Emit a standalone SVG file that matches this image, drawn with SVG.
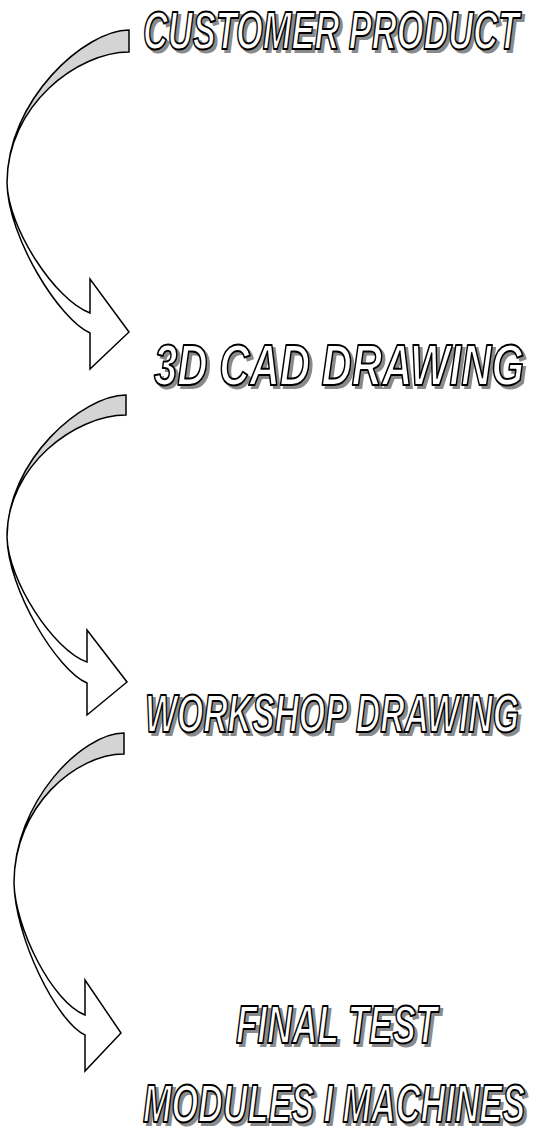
<svg xmlns="http://www.w3.org/2000/svg" width="541" height="1129" viewBox="0 0 541 1129">
<style>
.back{fill:#d4d4d4;stroke:#000;stroke-width:1.5;stroke-linejoin:miter}
.front{fill:#fff;stroke:#000;stroke-width:1.5;stroke-linejoin:miter}
.t{font-family:"Liberation Sans",Arial,sans-serif;font-weight:bold;font-style:italic}
.sh{fill:#8a8a8a;stroke:#8a8a8a;stroke-width:2}
.fg{fill:#fff;stroke:#000;stroke-width:2;stroke-linejoin:round}
</style>
<rect width="541" height="1129" fill="#fff"/>
<g id="connectors">
  <g id="arrow1">
    <path class="back" d="M129,30 C85,30 7,100 7,183 C7,105 78,52 129,52 Z"/>
    <path class="front" d="M7,183 C8,238 60,320 90,333 L90,369 L129,332 L90,279 L90,313 C55,300 8,228 7,183 Z"/>
  </g>
  <g id="arrow2">
    <path class="back" d="M126,395 C83,395 7,460 7,537 C7,465 76,415 126,415 Z"/>
    <path class="front" d="M7,537 C8,590 57,670 87,683 L87,715 L127,682 L87,630 L87,662 C53,650 8,580 7,537 Z"/>
  </g>
  <g id="arrow3">
    <path class="back" d="M124,733 C82,733 14,802 14,883 C14,806 76,754 124,754 Z"/>
    <path class="front" d="M14,883 C15,938 57,1022 85,1035 L85,1071 L121,1033 L85,980 L85,1015 C52,1002 15,928 14,883 Z"/>
  </g>
</g>
<g id="node1">
  <text class="t sh" x="146" y="52" font-size="54" textLength="376" lengthAdjust="spacingAndGlyphs">CUSTOMER PRODUCT</text>
  <text class="t fg" x="143" y="49" font-size="54" textLength="376" lengthAdjust="spacingAndGlyphs">CUSTOMER PRODUCT</text>
</g>
<g id="node2">
  <text class="t sh" x="157" y="388" font-size="58" textLength="370" lengthAdjust="spacingAndGlyphs">3D CAD DRAWING</text>
  <text class="t fg" x="154" y="385" font-size="58" textLength="370" lengthAdjust="spacingAndGlyphs">3D CAD DRAWING</text>
</g>
<g id="node3">
  <text class="t sh" x="148" y="735" font-size="54" textLength="374" lengthAdjust="spacingAndGlyphs">WORKSHOP DRAWING</text>
  <text class="t fg" x="145" y="732" font-size="54" textLength="374" lengthAdjust="spacingAndGlyphs">WORKSHOP DRAWING</text>
</g>
<g id="node4">
  <text class="t sh" x="239" y="1046" font-size="53" textLength="201" lengthAdjust="spacingAndGlyphs">FINAL TEST</text>
  <text class="t fg" x="236" y="1043" font-size="53" textLength="201" lengthAdjust="spacingAndGlyphs">FINAL TEST</text>
  <text class="t sh" x="146" y="1125" font-size="53" textLength="382" lengthAdjust="spacingAndGlyphs">MODULES I MACHINES</text>
  <text class="t fg" x="143" y="1122" font-size="53" textLength="382" lengthAdjust="spacingAndGlyphs">MODULES I MACHINES</text>
</g>
</svg>
